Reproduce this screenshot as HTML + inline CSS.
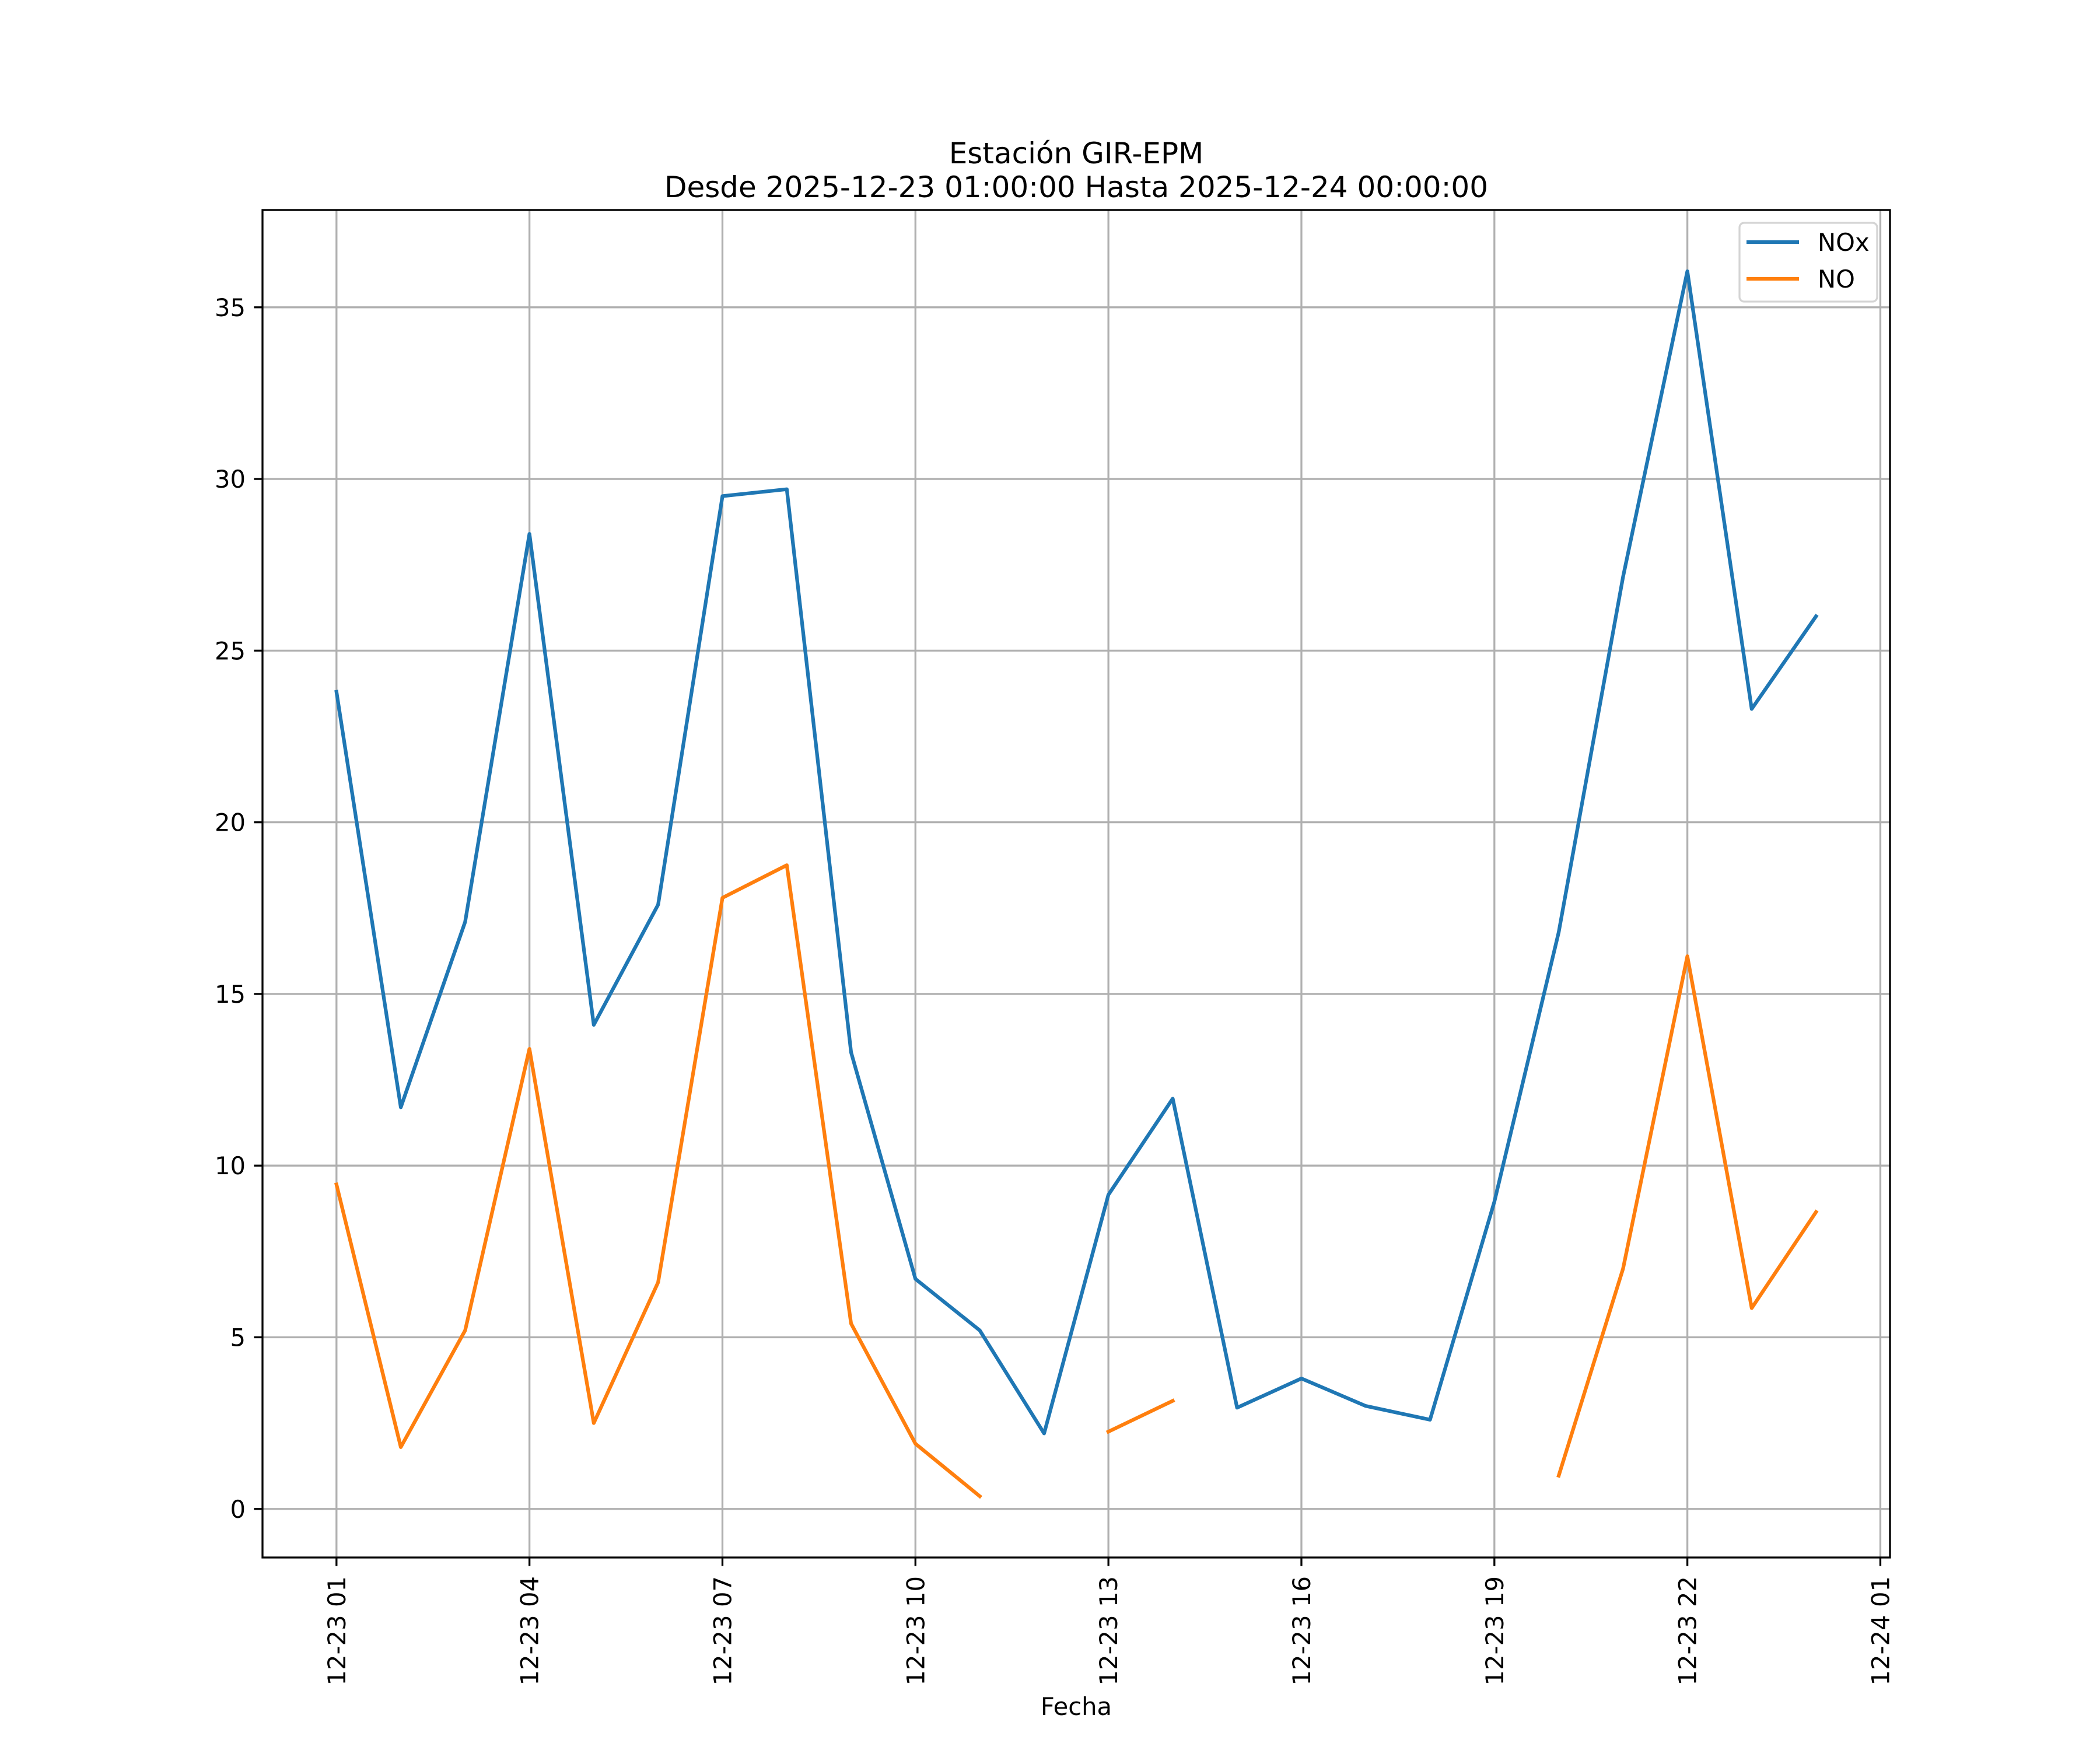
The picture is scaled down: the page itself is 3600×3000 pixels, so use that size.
<!DOCTYPE html>
<html><head><meta charset="utf-8">
<style>html,body{margin:0;padding:0;background:#fff}svg{display:block}text{font-family:"DejaVu Sans","Liberation Sans",sans-serif;fill:#000}</style>
</head><body>
<svg id="chart" width="3600" height="3000" viewBox="0 0 3600 3000" xmlns="http://www.w3.org/2000/svg">
<rect width="3600" height="3000" fill="#fff"/>
<text x="1845" y="280" font-size="50" text-anchor="middle">Estación GIR-EPM</text>
<text x="1845" y="338" font-size="50" text-anchor="middle">Desde 2025-12-23 01:00:00 Hasta 2025-12-24 00:00:00</text>
<g id="grid"></g><g id="series"></g><g id="axes"></g>
<text x="1845" y="2940" font-size="41.7" text-anchor="middle">Fecha</text>
<g>
<rect x="2982" y="382" width="236" height="135" rx="8" fill="#fff" fill-opacity="0.8" stroke="#d4d4d4" stroke-width="3.3"/>
<line x1="2994" y1="415" x2="3084" y2="415" stroke="#1f77b4" stroke-width="6.25"/>
<text x="3116" y="430" font-size="41.7">NOx</text>
<line x1="2994" y1="478" x2="3084" y2="478" stroke="#ff7f0e" stroke-width="6.25"/>
<text x="3116" y="493" font-size="41.7">NO</text>
</g>
</svg>
<script>
const hours = [1,2,3,4,5,6,7,8,9,10,11,12,13,14,15,16,17,18,19,20,21,22,23,24];
const noxValues = [23.8,11.7,17.1,28.4,14.1,17.6,29.5,29.7,13.3,6.7,5.2,2.2,9.15,11.95,2.95,3.8,3.0,2.6,8.95,16.8,27.15,36.05,23.3,26.0];
const noValues = [9.45,1.8,5.2,13.4,2.5,6.6,17.8,18.75,5.4,1.9,0.37,null,2.25,3.15,null,null,null,null,null,0.97,7.0,16.1,5.85,8.65];
const yTicks = [0,5,10,15,20,25,30,35];
const xTicks = [1,4,7,10,13,16,19,22,25];
const xTickLabels = ["12-23 01","12-23 04","12-23 07","12-23 10","12-23 13","12-23 16","12-23 19","12-23 22","12-24 01"];

const L=450,R=3240,T=360,B=2670,NS="http://www.w3.org/2000/svg";
const all=noxValues.concat(noValues).filter(v=>v!==null);
const dmin=Math.min(...all),dmax=Math.max(...all),dy=dmax-dmin;
const y0=dmin-0.05*dy,y1=dmax+0.05*dy;
const hx=hours[hours.length-1]-hours[0];
const x0=hours[0]-0.05*hx,x1=hours[hours.length-1]+0.05*hx;
const X=v=>L+(v-x0)/(x1-x0)*(R-L);
const Y=v=>B-(v-y0)/(y1-y0)*(B-T);
function mk(tag,attrs,parent){const e=document.createElementNS(NS,tag);for(const k in attrs)e.setAttribute(k,attrs[k]);parent.appendChild(e);return e;}
const grid=document.getElementById('grid'),axes=document.getElementById('axes'),series=document.getElementById('series');
xTicks.forEach((t,i)=>{
  const x=X(t);
  const g=mk('line',{x1:x,y1:T,x2:x,y2:B,stroke:'#b0b0b0','stroke-width':3.3},grid);
  
  
  const tk=mk('line',{x1:x,y1:B,x2:x,y2:B+14.6,stroke:'#000','stroke-width':3.3},axes);
  
  
  const tx=mk('text',{x:0,y:0,'font-size':41.7,'text-anchor':'end',transform:`translate(${x+15},${B+32}) rotate(-90)`},axes);
  tx.textContent=xTickLabels[i];
  
  
});
yTicks.forEach(t=>{
  const y=Y(t);
  const g=mk('line',{x1:L,y1:y,x2:R,y2:y,stroke:'#b0b0b0','stroke-width':3.3},grid);
  
  
  const tk=mk('line',{x1:L-14.6,y1:y,x2:L,y2:y,stroke:'#000','stroke-width':3.3},axes);
  
  
  const tx=mk('text',{x:L-29,y:y+15,'font-size':41.7,'text-anchor':'end'},axes);
  tx.textContent=String(t);
  
  
});
const frame=mk('rect',{x:L,y:T,width:R-L,height:B-T,fill:'none',stroke:'#000','stroke-width':3.3},axes);


function drawSeries(vals,color,name){
  let d='',pen=false;
  vals.forEach((v,i)=>{
    if(v===null){pen=false;return;}
    d+=(pen?'L':'M')+X(hours[i]).toFixed(1)+' '+Y(v).toFixed(1)+' ';pen=true;
  });
  const p=mk('path',{d:d,fill:'none',stroke:color,'stroke-width':6.25,'stroke-linejoin':'round','stroke-linecap':'square'},series);
  
  
}
drawSeries(noxValues,'#1f77b4','nox-line');
drawSeries(noValues,'#ff7f0e','no-line');
</script>
</body></html>
